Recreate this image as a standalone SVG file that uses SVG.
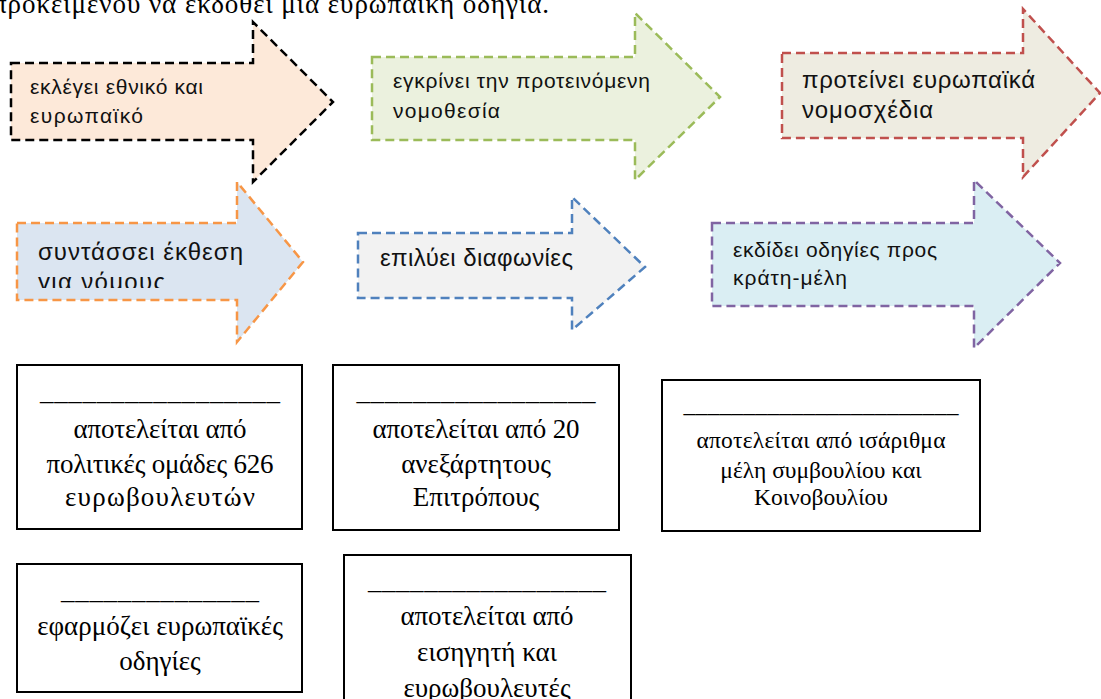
<svg xmlns="http://www.w3.org/2000/svg" width="1101" height="699" viewBox="0 0 1101 699">
  <style>
    .arrow { stroke-width: 2.5; stroke-dasharray: 9 5; stroke-linejoin: miter; }
    .atext { font-family: "Liberation Sans", "DejaVu Sans", sans-serif; fill: #111; }
    .box { fill: #fff; stroke: #000; stroke-width: 2; }
    .btext { font-family: "Liberation Serif", "DejaVu Serif", serif; font-size: 27px; fill: #000; text-anchor: middle; }
    .small { font-size: 23.5px; }
    .head { font-family: "Liberation Serif", "DejaVu Serif", serif; font-size: 27px; fill: #000; }
  </style>
  <defs>
    <clipPath id="clip-a4">
      <rect x="20" y="225" width="230" height="63"/>
    </clipPath>
  </defs>
  <rect width="1101" height="699" fill="#fff"/>

  <!-- running text from the page above -->
  <text class="head" x="-7" y="13" textLength="556">προκειμένου να εκδοθεί μια ευρωπαϊκή οδηγία.</text>

  <!-- block arrows -->
  <g id="arrow-elects">
    <path class="arrow" d="M11 63 H253 V22 L333 102 L253 182 V140 H11 Z" fill="#FDE9D9" stroke="#000"/>
    <text class="atext" font-size="21" x="30" y="94" textLength="173">εκλέγει εθνικό και</text>
    <text class="atext" font-size="21" x="30" y="123" textLength="113">ευρωπαϊκό</text>
  </g>
  <g id="arrow-approves">
    <path class="arrow" d="M372 57 H635 V13 L720 97 L635 180 V140 H372 Z" fill="#EBF1DE" stroke="#9BBB59"/>
    <text class="atext" font-size="21" x="393" y="88" textLength="257">εγκρίνει την προτεινόμενη</text>
    <text class="atext" font-size="21" x="393" y="118" textLength="107">νομοθεσία</text>
  </g>
  <g id="arrow-proposes">
    <path class="arrow" d="M782 53 H1023 V9 L1100 93 L1023 177 V138 H782 Z" fill="#EEECE1" stroke="#C0504D"/>
    <text class="atext" font-size="24" x="802" y="88" textLength="233">προτείνει ευρωπαϊκά</text>
    <text class="atext" font-size="24" x="802" y="118" textLength="131">νομοσχέδια</text>
  </g>
  <g id="arrow-reports">
    <path class="arrow" d="M17 223 H237 V182 L303 262 L237 342 V300 H17 Z" fill="#DBE5F1" stroke="#F79646"/>
    <g clip-path="url(#clip-a4)">
      <text class="atext" font-size="24" x="38" y="260" textLength="205">συντάσσει έκθεση</text>
      <text class="atext" font-size="24" x="38" y="290" textLength="127">για νόμους</text>
    </g>
  </g>
  <g id="arrow-resolves">
    <path class="arrow" d="M358 233 H572 V197 L645 267 L572 330 V298 H358 Z" fill="#F2F2F2" stroke="#4F81BD"/>
    <text class="atext" font-size="24" x="380" y="266" textLength="193">επιλύει διαφωνίες</text>
  </g>
  <g id="arrow-issues">
    <path class="arrow" d="M712 223 H974 V180 L1060 263 L974 348 V306 H712 Z" fill="#DAEEF3" stroke="#8064A2"/>
    <text class="atext" font-size="21" x="733" y="257" textLength="204">εκδίδει οδηγίες προς</text>
    <text class="atext" font-size="21" x="733" y="285" textLength="114">κράτη-μέλη</text>
  </g>

  <!-- fill-in boxes -->
  <g id="box-parliament">
    <rect class="box" x="17" y="365" width="285" height="164"/>
    <text class="btext" x="160" y="400" textLength="240">_________________</text>
    <text class="btext" x="160" y="438" textLength="173">αποτελείται από</text>
    <text class="btext" x="160" y="473" textLength="227">πολιτικές ομάδες 626</text>
    <text class="btext" x="160" y="506" textLength="190">ευρωβουλευτών</text>
  </g>
  <g id="box-commission">
    <rect class="box" x="333" y="365" width="286" height="165"/>
    <text class="btext" x="476" y="400" textLength="239">_________________</text>
    <text class="btext" x="476" y="438" textLength="207">αποτελείται από 20</text>
    <text class="btext" x="476" y="473">ανεξάρτητους</text>
    <text class="btext" x="476" y="506">Επιτρόπους</text>
  </g>
  <g id="box-conciliation">
    <rect class="box" x="662" y="380" width="318" height="151"/>
    <text class="btext small" x="821" y="412" textLength="275">_______________________</text>
    <text class="btext small" x="821" y="448" textLength="249">αποτελείται από ισάριθμα</text>
    <text class="btext small" x="821" y="478">μέλη συμβουλίου και</text>
    <text class="btext small" x="821" y="505">Κοινοβουλίου</text>
  </g>
  <g id="box-member-states">
    <rect class="box" x="17" y="564" width="285" height="128"/>
    <text class="btext" x="160" y="599" textLength="198">______________</text>
    <text class="btext" x="160" y="635">εφαρμόζει ευρωπαϊκές</text>
    <text class="btext" x="160" y="670">οδηγίες</text>
  </g>
  <g id="box-committee">
    <rect class="box" x="344" y="555" width="287" height="170"/>
    <text class="btext" x="487" y="589" textLength="238">_________________</text>
    <text class="btext" x="487" y="625" textLength="173">αποτελείται από</text>
    <text class="btext" x="487" y="661">εισηγητή και</text>
    <text class="btext" x="487" y="697">ευρωβουλευτές</text>
  </g>

  <g id="connectors"/>
</svg>
